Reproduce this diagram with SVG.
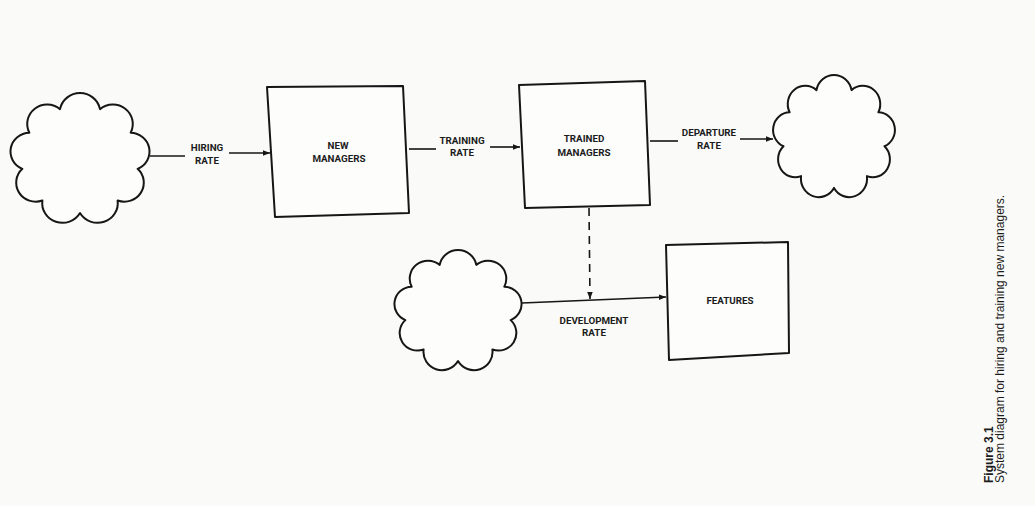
<svg xmlns="http://www.w3.org/2000/svg" xmlns:xlink="http://www.w3.org/1999/xlink" width="1035" height="506" viewBox="0 0 1035 506">
<style>
.bg{fill:#fafaf8}
.box{fill:#fdfdfc;stroke:#161616;stroke-width:2;stroke-linejoin:round}
.cloud{fill:#fdfdfc;stroke:#161616;stroke-width:2;vector-effect:non-scaling-stroke;stroke-linejoin:round}
.flow{fill:none;stroke:#161616;stroke-width:1.6}
.dash{fill:none;stroke:#161616;stroke-width:1.6;stroke-dasharray:8 6}
.lbl{font-family:Roboto,"Liberation Sans",sans-serif;font-weight:700;font-size:9.8px;fill:#1c1c1c;text-anchor:middle}
.cap{font-family:"Liberation Sans",Arial,sans-serif;font-size:12px;fill:#1c1c1c}
.capb{font-weight:700}
</style>
<defs>
<marker id="ah" viewBox="0 0 10 10" refX="10" refY="5" markerWidth="7" markerHeight="7" markerUnits="userSpaceOnUse" orient="auto">
<path d="M0,1 L10,5 L0,9 z" fill="#161616"/>
</marker>
<path id="cloudShape" class="cloud" d="M-19.05,-49.35 A19.4,19.4 0 0 1 19.05,-49.35 A19,19 0 0 1 48.24,-26.25 A18.4,18.4 0 0 1 54.86,9.14 A18.6,18.6 0 0 1 35.81,40.22 A19.3,19.3 0 0 1 0,52.5 A19.3,19.3 0 0 1 -35.81,40.22 A18.6,18.6 0 0 1 -54.86,9.14 A18.4,18.4 0 0 1 -48.24,-26.25 A19,19 0 0 1 -19.05,-49.35 Z"/>
</defs>
<rect class="bg" x="0" y="0" width="1035" height="506"/>

<g id="source-cloud">
<use xlink:href="#cloudShape" href="#cloudShape" transform="translate(80,159.5) scale(1.05,1.02)"/>
</g>
<g id="new-managers">
<polygon class="box" points="267,87 403,86 409,213 275,217"/>
<text class="lbl" x="338" y="148.5">NEW</text>
<text class="lbl" x="339" y="161.5">MANAGERS</text>
</g>
<g id="trained-managers">
<polygon class="box" points="519,85 645,81 650,205 525,208"/>
<text class="lbl" x="584" y="141.5">TRAINED</text>
<text class="lbl" x="584" y="155.5">MANAGERS</text>
</g>
<g id="sink-cloud">
<use xlink:href="#cloudShape" href="#cloudShape" transform="translate(834,137.5) scale(0.92,0.96)"/>
</g>
<g id="dev-cloud">
<use xlink:href="#cloudShape" href="#cloudShape" transform="translate(458,311.5) scale(0.96,0.945)"/>
</g>
<g id="features">
<polygon class="box" points="666,245 788,242 789,353 669,360"/>
<text class="lbl" x="730" y="303.5">FEATURES</text>
</g>

<g id="connectors">
<line class="flow" x1="150" y1="156" x2="185" y2="156"/>
<line class="flow" x1="229" y1="153" x2="270" y2="153" marker-end="url(#ah)"/>
<line class="flow" x1="409" y1="149" x2="436" y2="149"/>
<line class="flow" x1="490" y1="147" x2="520" y2="147" marker-end="url(#ah)"/>
<line class="flow" x1="650" y1="141" x2="678" y2="141"/>
<line class="flow" x1="740" y1="139" x2="773" y2="139" marker-end="url(#ah)"/>
<line class="flow" x1="522" y1="303" x2="666" y2="297" marker-end="url(#ah)"/>
<line class="dash" x1="589" y1="208" x2="590" y2="299" marker-end="url(#ah)"/>
<text class="lbl" x="207" y="150.5">HIRING</text>
<text class="lbl" x="207" y="163.5">RATE</text>
<text class="lbl" x="462" y="143.5">TRAINING</text>
<text class="lbl" x="462" y="155.5">RATE</text>
<text class="lbl" x="709" y="135.5">DEPARTURE</text>
<text class="lbl" x="709" y="148.5">RATE</text>
<text class="lbl" x="594" y="324">DEVELOPMENT</text>
<text class="lbl" x="594" y="336">RATE</text>
</g>

<g id="caption">
<text class="cap capb" transform="translate(993,483) rotate(-90)">Figure 3.1</text>
<text class="cap" transform="translate(1004,483) rotate(-90)">System diagram for hiring and training new managers.</text>
</g>
</svg>
